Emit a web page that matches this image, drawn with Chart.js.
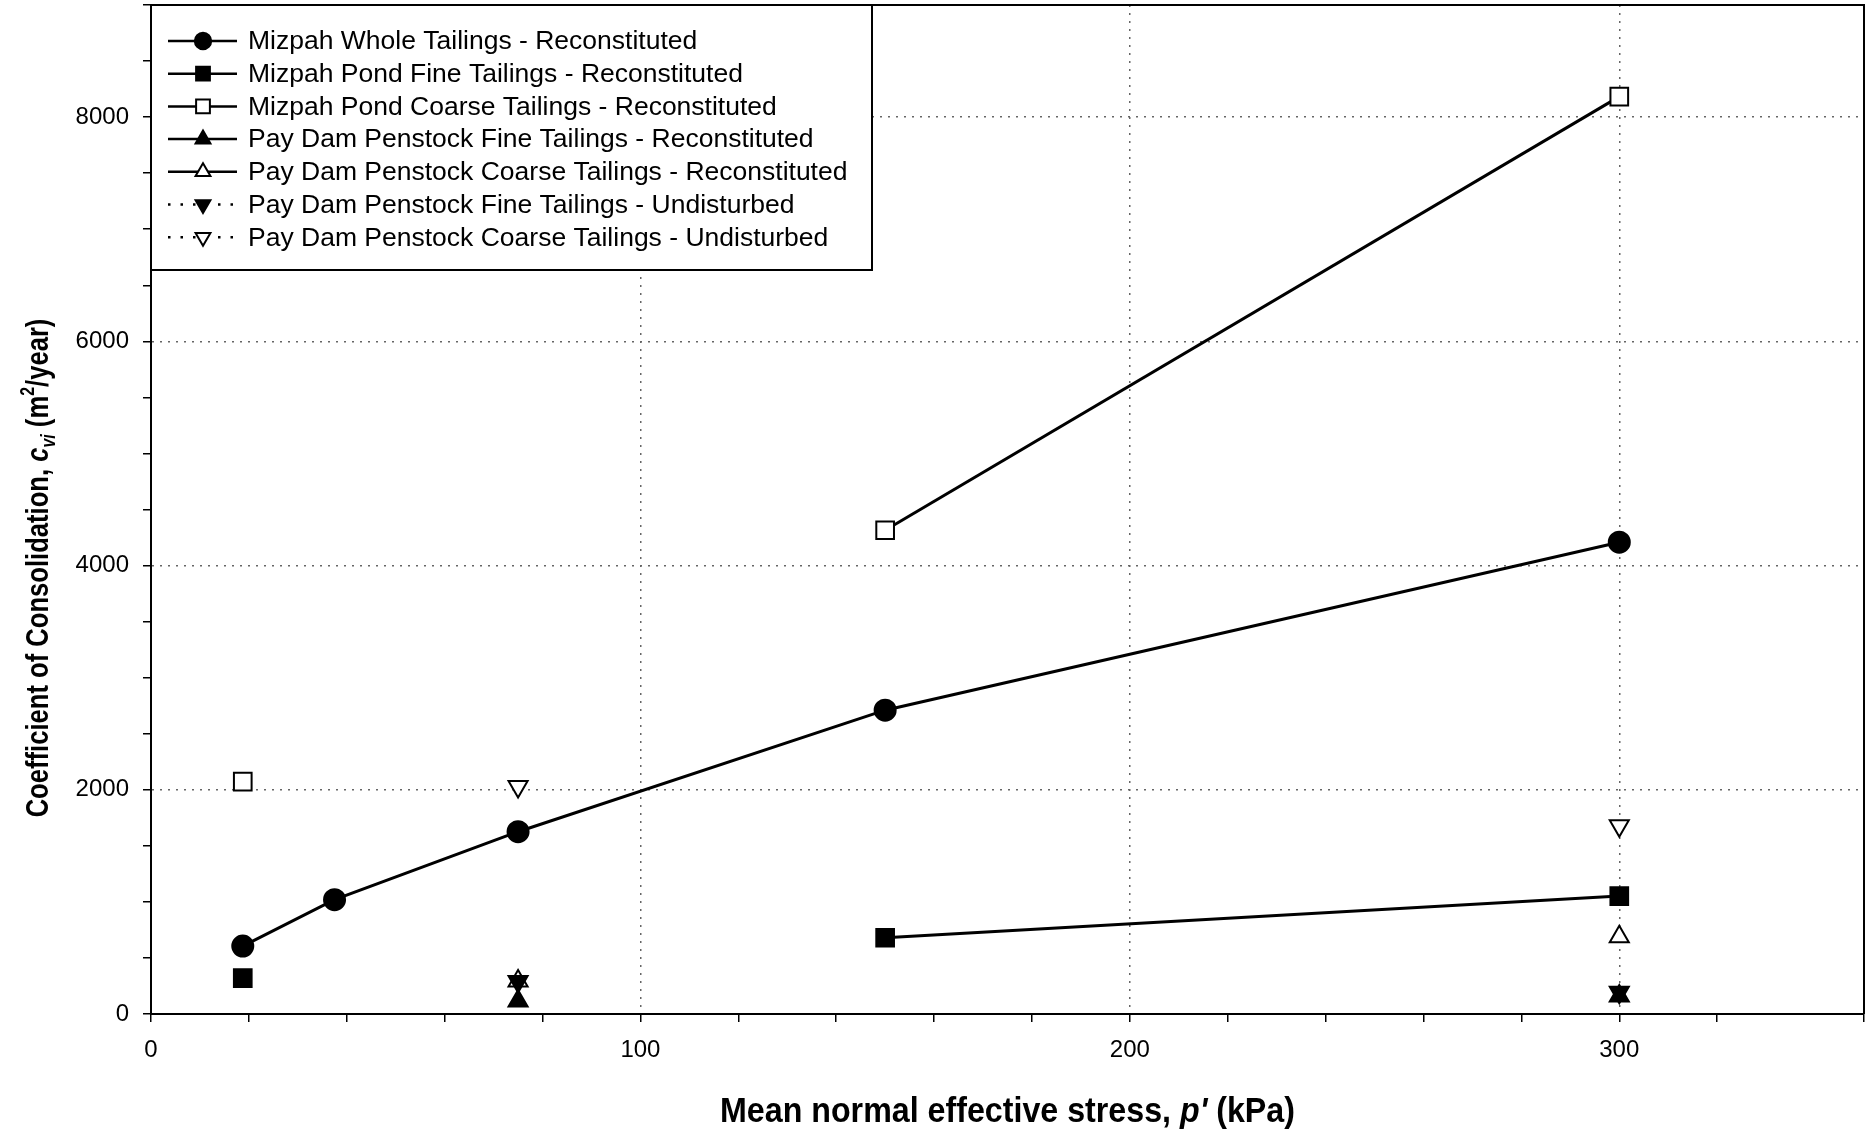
<!DOCTYPE html>
<html>
<head>
<meta charset="utf-8">
<script src="https://cdn.jsdelivr.net/npm/chart.js@4.4.0/dist/chart.umd.min.js"></script>
<style>
  html, body { margin: 0; padding: 0; background: #fff; }
  #wrap { width: 1868px; height: 1132px; }
</style>
</head>
<body>
<div id="wrap"><canvas id="chart" width="1868" height="1132"></canvas></div>
<script>
// Mean normal effective stress levels tested, p' (kPa)
const stress = [18.75, 37.5, 75, 150, 300];

// Coefficient of consolidation c_vi (m2/year); null = no test at that stress
const mizpahWhole        = [606, 1020, 1626, 2710, 4208];
const mizpahPondFine     = [320, null, null, 680, 1052];
const mizpahPondCoarse   = [2072, null, null, 4315, 8183];
const payDamFineRecon    = [null, null, 116, null, 160];
const payDamCoarseRecon  = [null, null, 295, null, 690];
const payDamFineUndist   = [null, null, 290, null, 195];
const payDamCoarseUndist = [null, null, 2030, null, 1680];

// Labelled ticks (the rest are minor ticks)
const xLabels = [0, 100, 200, 300];
const yLabels = [0, 2000, 4000, 6000, 8000];

const FONT = "'Liberation Sans', Arial, sans-serif";

const series = [
  { label: 'Mizpah Whole Tailings - Reconstituted', values: mizpahWhole, style: 'circle', radius: 10.5, filled: true, line: 'solid' },
  { label: 'Mizpah Pond Fine Tailings - Reconstituted', values: mizpahPondFine, style: 'rect', radius: 12.5, filled: true, line: 'solid' },
  { label: 'Mizpah Pond Coarse Tailings - Reconstituted', values: mizpahPondCoarse, style: 'rect', radius: 12.5, filled: false, line: 'solid' },
  { label: 'Pay Dam Penstock Fine Tailings - Reconstituted', values: payDamFineRecon, style: 'triangle', radius: 11, filled: true, line: 'none' },
  { label: 'Pay Dam Penstock Coarse Tailings - Reconstituted', values: payDamCoarseRecon, style: 'triangle', radius: 11, filled: false, line: 'none' },
  { label: 'Pay Dam Penstock Fine Tailings - Undisturbed', values: payDamFineUndist, style: 'triangle', rotation: 180, radius: 11, filled: true, line: 'dotted', order: -1 },
  { label: 'Pay Dam Penstock Coarse Tailings - Undisturbed', values: payDamCoarseUndist, style: 'triangle', rotation: 180, radius: 11, filled: false, line: 'dotted' }
];

const datasets = series.map(s => ({
  label: s.label,
  data: stress.map((x, i) => ({ x: x, y: s.values[i] })),
  showLine: s.line === 'solid',
  spanGaps: false,
  borderColor: '#000',
  borderWidth: 3,
  pointStyle: s.style,
  pointRotation: s.rotation || 0,
  pointRadius: s.radius,
  pointBorderWidth: 2,
  pointBorderColor: '#000',
  pointBackgroundColor: s.filled ? '#000' : '#fff',
  order: s.order || 0
}));

// draws a run of text pieces (normal / italic / sub / sup) centred on (0,0)
function drawRich(ctx, pieces, size) {
  const fontOf = p => (p.italic ? 'italic ' : '') + 'bold ' + Math.round(size * (p.small ? 0.62 : 1)) + 'px ' + FONT;
  let total = 0;
  pieces.forEach(p => { ctx.font = fontOf(p); total += ctx.measureText(p.t).width; });
  let x = -total / 2;
  ctx.textBaseline = 'alphabetic';
  ctx.textAlign = 'left';
  pieces.forEach(p => {
    ctx.font = fontOf(p);
    const dy = p.sub ? size * 0.22 : p.sup ? -size * 0.45 : 0;
    ctx.fillText(p.t, x, size * 0.35 + dy);
    x += ctx.measureText(p.t).width;
  });
}

const axisTitles = {
  id: 'axisTitles',
  afterDraw(chart) {
    const { ctx, chartArea } = chart;
    ctx.save();
    ctx.fillStyle = '#000';
    // x title
    ctx.save();
    ctx.translate((chartArea.left + chartArea.right) / 2, 1110);
    ctx.scale(0.92, 1);
    drawRich(ctx, [
      { t: 'Mean normal effective stress, ' },
      { t: "p'", italic: true },
      { t: ' (kPa)' }
    ], 35);
    ctx.restore();
    // y title
    ctx.save();
    ctx.translate(37, 568);
    ctx.rotate(-Math.PI / 2);
    ctx.scale(0.8, 1);
    drawRich(ctx, [
      { t: 'Coefficient of Consolidation, ' },
      { t: 'c', italic: true },
      { t: 'vi', italic: true, small: true, sub: true },
      { t: ' (m' },
      { t: '2', small: true, sup: true },
      { t: '/year)' }
    ], 32);
    ctx.restore();
    ctx.restore();
  }
};

// top and right edges of the plot frame
const frame = {
  id: 'frame',
  beforeDatasetsDraw(chart) {
    const { ctx, chartArea: a } = chart;
    ctx.save();
    ctx.strokeStyle = '#000';
    ctx.lineWidth = 2;
    ctx.beginPath();
    ctx.moveTo(a.left, a.top);
    ctx.lineTo(a.right, a.top);
    ctx.lineTo(a.right, a.bottom);
    ctx.stroke();
    ctx.restore();
  }
};

// boxed legend with line + marker samples in the top-left corner
const boxLegend = {
  id: 'boxLegend',
  afterDraw(chart) {
    const { ctx, chartArea: a } = chart;
    const bx = a.left, by = a.top, bw = 721, bh = 265;
    ctx.save();
    ctx.fillStyle = '#fff';
    ctx.fillRect(bx, by, bw, bh);
    ctx.strokeStyle = '#000';
    ctx.lineWidth = 2;
    ctx.strokeRect(bx, by, bw, bh);
    series.forEach((s, i) => {
      const y = by + 36 + i * 32.7;
      ctx.save();
      ctx.strokeStyle = '#000';
      ctx.lineWidth = 2.5;
      ctx.setLineDash(s.line === 'dotted' ? [2.5, 10] : []);
      ctx.beginPath();
      ctx.moveTo(bx + 17, y);
      ctx.lineTo(bx + 86, y);
      ctx.stroke();
      ctx.setLineDash([]);
      ctx.fillStyle = s.filled ? '#000' : '#fff';
      ctx.lineWidth = 2;
      Chart.helpers.drawPoint(ctx, {
        pointStyle: s.style,
        radius: s.radius * 0.78,
        rotation: s.rotation || 0,
        borderWidth: 2
      }, bx + 52, y);
      ctx.restore();
      ctx.fillStyle = '#000';
      ctx.font = '26.5px ' + FONT;
      ctx.textBaseline = 'middle';
      ctx.fillText(s.label, bx + 97, y + 1);
    });
    ctx.restore();
  }
};

new Chart(document.getElementById('chart'), {
  type: 'scatter',
  data: { datasets: datasets },
  plugins: [frame, boxLegend, axisTitles],
  options: {
    responsive: false,
    animation: false,
    events: [],
    layout: { autoPadding: false, padding: { top: 5, right: 4, left: 0, bottom: 0 } },
    plugins: { legend: { display: false }, tooltip: { enabled: false } },
    scales: {
      x: {
        type: 'linear',
        min: 0,
        max: 350,
        afterFit: s => { s.height = 118; s.paddingLeft = 0; s.paddingRight = 0; },
        ticks: {
          stepSize: 20,
          autoSkip: false,
          maxRotation: 0,
          padding: 14,
          color: '#000',
          font: { family: FONT, size: 24 },
          callback: v => xLabels.includes(v) ? String(v) : ''
        },
        grid: {
          color: c => (c.tick && xLabels.includes(c.tick.value) && c.tick.value !== 0) ? '#666' : 'rgba(0,0,0,0)',
          tickColor: '#000',
          lineWidth: 1.5,
          tickWidth: 1.5,
          tickLength: 8
        },
        border: { display: true, color: '#000', width: 2, dash: [2, 6] }
      },
      y: {
        type: 'linear',
        min: 0,
        max: 9000,
        afterFit: s => { s.width = 151; s.paddingTop = 0; s.paddingBottom = 0; },
        ticks: {
          stepSize: 500,
          autoSkip: false,
          padding: 14,
          color: '#000',
          font: { family: FONT, size: 24 },
          callback: v => yLabels.includes(v) ? String(v) : ''
        },
        grid: {
          color: c => (c.tick && yLabels.includes(c.tick.value) && c.tick.value !== 0) ? '#666' : 'rgba(0,0,0,0)',
          tickColor: '#000',
          lineWidth: 1.5,
          tickWidth: 1.5,
          tickLength: 8
        },
        border: { display: true, color: '#000', width: 2, dash: [2, 6] }
      }
    }
  }
});
</script>
</body>
</html>
